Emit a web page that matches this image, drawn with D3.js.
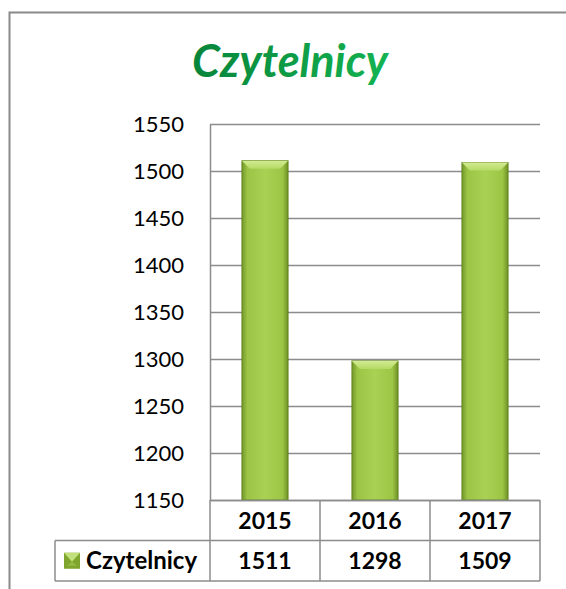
<!DOCTYPE html>
<html>
<head>
<meta charset="utf-8">
<script src="https://cdnjs.cloudflare.com/ajax/libs/d3/7.8.5/d3.min.js"></script>
<style>
	body { margin: 0; background: #fff; }
	svg { display: block; font-family: Lato, "Open Sans", sans-serif; }
</style>
</head>
<body>
<svg id="chart" width="566" height="589"></svg>
<script>
var categories = ["2015", "2016", "2017"];
var values = [1511, 1298, 1509];
var seriesName = "Czytelnicy";
var yTicks = [1150, 1200, 1250, 1300, 1350, 1400, 1450, 1500, 1550];

var svg = d3.select("#chart");
var plotLeft = 210, plotRight = 540, plotTop = 124, plotBottom = 500;
var rowH = 40.5;

var x = d3.scaleBand().domain(categories).range([plotLeft, plotRight]).paddingInner(0.58).paddingOuter(0.29);
var cols = d3.scaleBand().domain(categories).range([plotLeft, plotRight]);
var y = d3.scaleLinear().domain([1150, 1550]).range([plotBottom, plotTop]);

var defs = svg.append("defs");
var g1 = defs.append("linearGradient").attr("id", "barGrad").attr("x1", 0).attr("x2", 1).attr("y1", 0).attr("y2", 0);
[[0, "#739728"], [0.12, "#9cc546"], [0.5, "#a9d254"], [0.88, "#9cc546"], [1, "#6e9124"]].forEach(function(s) {
	g1.append("stop").attr("offset", s[0]).attr("stop-color", s[1]);
});
var g2 = defs.append("linearGradient").attr("id", "bevelGrad").attr("x1", 0).attr("x2", 0).attr("y1", 0).attr("y2", 1);
[[0, "#d2eb92"], [1, "#b6da66"]].forEach(function(s) {
	g2.append("stop").attr("offset", s[0]).attr("stop-color", s[1]);
});
var g3 = defs.append("linearGradient").attr("id", "titleGrad").attr("x1", 0).attr("x2", 1).attr("y1", 0).attr("y2", 0);
[[0, "#07853a"], [1, "#14b352"]].forEach(function(s) {
	g3.append("stop").attr("offset", s[0]).attr("stop-color", s[1]);
});

// outer frame
svg.append("path")
	.attr("d", "M9.5,589 V12.5 H566")
	.attr("fill", "none").attr("stroke", "#8a8a8a").attr("stroke-width", 2);

// title
svg.append("text")
	.attr("x", 290).attr("y", 77)
	.attr("text-anchor", "middle")
	.attr("font-size", 45).attr("font-weight", "bold").attr("font-style", "italic")
	.attr("fill", "url(#titleGrad)")
	.text(seriesName);

// gridlines
svg.append("g").selectAll("line")
	.data(yTicks)
	.enter().append("line")
	.attr("x1", plotLeft).attr("x2", plotRight)
	.attr("y1", function(d) { return Math.round(y(d)) + 0.5; })
	.attr("y2", function(d) { return Math.round(y(d)) + 0.5; })
	.attr("stroke", "#8c8c8c").attr("stroke-width", 1.5);

// y axis
var yAxis = svg.append("g")
	.attr("transform", "translate(" + plotLeft + ",0)")
	.call(d3.axisLeft(y).tickValues(yTicks).tickFormat(d3.format("d")).tickSize(0).tickPadding(26));
yAxis.select(".domain").attr("stroke", "#8c8c8c").attr("stroke-width", 1.5);
yAxis.selectAll("text").attr("font-size", 22).attr("fill", "#000").attr("font-family", "Lato, sans-serif");

// bars
var bars = svg.append("g").selectAll("g")
	.data(values)
	.enter().append("g");

bars.append("rect")
	.attr("x", function(d, i) { return x(categories[i]); })
	.attr("y", function(d) { return y(d); })
	.attr("width", x.bandwidth())
	.attr("height", function(d) { return y(1150) - y(d); })
	.attr("fill", "url(#barGrad)")
	.attr("stroke", "#5e7e1c").attr("stroke-width", 0.8);

bars.append("path")
	.attr("d", function(d, i) {
		var x0 = x(categories[i]), x1 = x0 + x.bandwidth(), y0 = y(d), b = 8;
		return "M" + x0 + "," + y0 + "H" + x1 + "L" + (x1 - b) + "," + (y0 + b) + "H" + (x0 + b) + "Z";
	})
	.attr("fill", "url(#bevelGrad)");

// data table
var table = svg.append("g").attr("stroke", "#8c8c8c").attr("stroke-width", 1.5).attr("fill", "none");
table.append("line").attr("x1", plotLeft).attr("x2", plotRight).attr("y1", plotBottom + 0.5).attr("y2", plotBottom + 0.5);
table.append("line").attr("x1", 55).attr("x2", plotRight).attr("y1", plotBottom + rowH).attr("y2", plotBottom + rowH);
table.append("line").attr("x1", 55).attr("x2", plotRight).attr("y1", plotBottom + 2 * rowH).attr("y2", plotBottom + 2 * rowH);
table.append("line").attr("x1", 55).attr("x2", 55).attr("y1", plotBottom + rowH).attr("y2", plotBottom + 2 * rowH);
table.selectAll(".vl")
	.data(categories.concat(["end"]))
	.enter().append("line")
	.attr("x1", function(d, i) { return plotLeft + i * cols.bandwidth(); })
	.attr("x2", function(d, i) { return plotLeft + i * cols.bandwidth(); })
	.attr("y1", plotBottom).attr("y2", plotBottom + 2 * rowH);

svg.append("g").selectAll("text")
	.data(categories)
	.enter().append("text")
	.attr("x", function(d) { return cols(d) + cols.bandwidth() / 2; })
	.attr("y", plotBottom + rowH / 2)
	.attr("dy", "0.36em")
	.attr("text-anchor", "middle")
	.attr("font-size", 23).attr("font-weight", "bold")
	.text(function(d) { return d; });

svg.append("g").selectAll("text")
	.data(values)
	.enter().append("text")
	.attr("x", function(d, i) { return cols(categories[i]) + cols.bandwidth() / 2; })
	.attr("y", plotBottom + rowH * 1.5)
	.attr("dy", "0.36em")
	.attr("text-anchor", "middle")
	.attr("font-size", 23).attr("font-weight", "bold")
	.text(function(d) { return d; });

// legend key
var ky = plotBottom + rowH * 1.5 - 8;
svg.append("rect").attr("x", 64).attr("y", ky).attr("width", 16).attr("height", 16).attr("fill", "#7fa52e");
svg.append("path")
	.attr("d", "M64," + ky + "H80L72," + (ky + 9) + "Z")
	.attr("fill", "#c2e07c");
svg.append("path")
	.attr("d", "M67," + (ky + 13) + "H77L72," + (ky + 9) + "Z")
	.attr("fill", "#94bd43");
svg.append("text")
	.attr("x", 86).attr("y", plotBottom + rowH * 1.5)
	.attr("dy", "0.36em")
	.attr("font-size", 24).attr("font-weight", "bold")
	.text(seriesName);
</script>
</body>
</html>
